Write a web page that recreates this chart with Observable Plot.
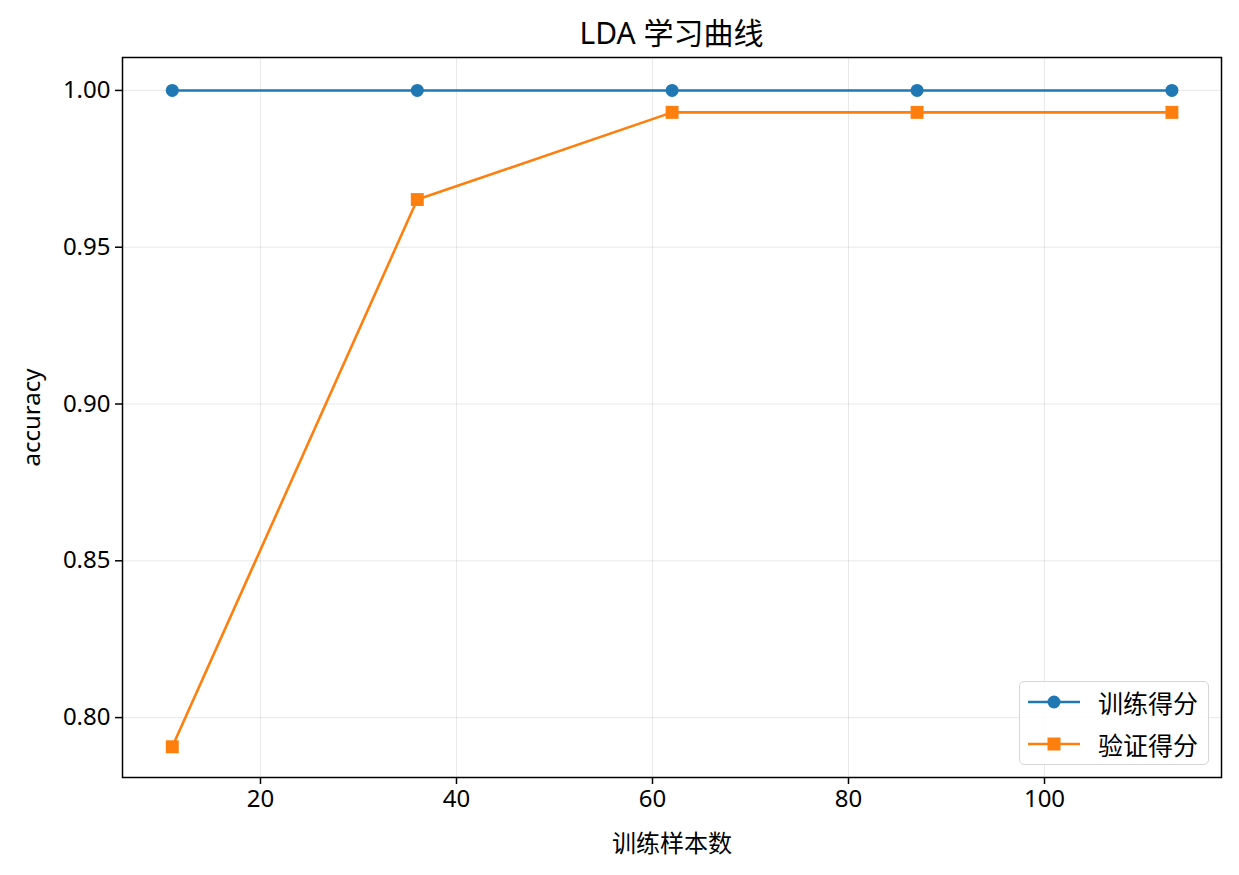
<!DOCTYPE html>
<html>
<head>
<meta charset="utf-8">
<script src="https://cdn.jsdelivr.net/npm/d3@7"></script>
<script src="https://cdn.jsdelivr.net/npm/@observablehq/plot@0.6"></script>
<style>
  body { margin: 0; background: #fff; font-family: "Noto Sans", "Noto Sans CJK SC", sans-serif; }
  #wrap { position: relative; width: 1239px; height: 875px; }
  #title { height: 56px; line-height: 66px; text-align: center; font-size: 30px; color: #000;
           font-family: "Noto Sans", "Noto Sans CJK SC", sans-serif; padding-left: 104px; box-sizing: border-box; }
  #chart svg text { font-size: 24px; }
  #legend { position: absolute; left: 1019px; top: 681px; width: 190px; height: 84px; box-sizing: border-box;
            border: 1.5px solid #d6d6d6; border-radius: 5px; background: rgba(255,255,255,0.85);
            font-family: "Noto Sans CJK SC", sans-serif; font-size: 25px; color: #000; }
  .row { position: absolute; left: 6px; height: 30px; display: flex; align-items: center; }
  .row svg { margin-right: 16px; }
</style>
</head>
<body>
<div id="wrap">
  <div id="title">LDA 学习曲线</div>
  <div id="chart"></div>
  <div id="legend"></div>
</div>
<script>
const trainSizes = [11, 36, 62, 87, 113];
const trainScores = [1.0, 1.0, 1.0, 1.0, 1.0];
const valScores = [0.7907, 0.9652, 0.993, 0.993, 0.993];
const seriesNames = ["训练得分", "验证得分"];
const seriesColors = ["#1f77b4", "#ff7f0e"];
const xTicks = [20, 40, 60, 80, 100];
const yTicks = [0.80, 0.85, 0.90, 0.95, 1.00];

const train = trainSizes.map((x, i) => ({x, y: trainScores[i]}));
const val = trainSizes.map((x, i) => ({x, y: valScores[i]}));

const chart = Plot.plot({
  width: 1239,
  height: 819,
  marginTop: 1,
  marginBottom: 98,
  marginLeft: 122,
  marginRight: 18,
  style: { fontFamily: '"Noto Sans", "Noto Sans CJK SC", sans-serif', fontSize: "24px", color: "#000", background: "#fff" },
  x: { domain: [5.92, 118.06], ticks: xTicks },
  y: { domain: [0.7809, 1.0105], ticks: yTicks, tickFormat: ".2f" },
  marks: [
    Plot.gridX(xTicks, { stroke: "#000", strokeOpacity: 0.09, strokeWidth: 1 }),
    Plot.gridY(yTicks, { stroke: "#000", strokeOpacity: 0.09, strokeWidth: 1 }),
    Plot.axisX(xTicks, { tickSize: 7, tickPadding: 5, strokeWidth: 1.5, label: "训练样本数", labelAnchor: "center", labelOffset: 74, labelArrow: "none" }),
    Plot.axisY(yTicks, { tickSize: 7, tickPadding: 5, strokeWidth: 1.5, tickFormat: ".2f", label: "accuracy", labelAnchor: "center", labelOffset: 100, labelArrow: "none" }),
    Plot.line(train, { x: "x", y: "y", stroke: seriesColors[0], strokeWidth: 2.6 }),
    Plot.dot(train, { x: "x", y: "y", fill: seriesColors[0], r: 6.5, symbol: "circle" }),
    Plot.line(val, { x: "x", y: "y", stroke: seriesColors[1], strokeWidth: 2.6 }),
    Plot.dot(val, { x: "x", y: "y", fill: seriesColors[1], r: 7.3, symbol: "square" }),
    Plot.frame({ stroke: "#000", strokeWidth: 1.5 })
  ]
});
document.getElementById("chart").appendChild(chart);

const legend = document.getElementById("legend");
const symbols = ["circle", "square"];
seriesNames.forEach((name, i) => {
  const row = document.createElement("div");
  row.className = "row";
  row.style.top = (5 + i * 42) + "px";
  const ns = "http://www.w3.org/2000/svg";
  const svg = document.createElementNS(ns, "svg");
  svg.setAttribute("width", 56); svg.setAttribute("height", 30);
  const line = document.createElementNS(ns, "line");
  line.setAttribute("x1", 2); line.setAttribute("x2", 54); line.setAttribute("y1", 15); line.setAttribute("y2", 15);
  line.setAttribute("stroke", seriesColors[i]); line.setAttribute("stroke-width", 2.6);
  svg.appendChild(line);
  if (symbols[i] === "circle") {
    const c = document.createElementNS(ns, "circle");
    c.setAttribute("cx", 28); c.setAttribute("cy", 15); c.setAttribute("r", 6.5);
    c.setAttribute("fill", seriesColors[i]);
    svg.appendChild(c);
  } else {
    const r = document.createElementNS(ns, "rect");
    r.setAttribute("x", 21.5); r.setAttribute("y", 8.5); r.setAttribute("width", 13); r.setAttribute("height", 13);
    r.setAttribute("fill", seriesColors[i]);
    svg.appendChild(r);
  }
  row.appendChild(svg);
  const t = document.createElement("span");
  t.textContent = name;
  row.appendChild(t);
  legend.appendChild(row);
});
</script>
</body>
</html>
